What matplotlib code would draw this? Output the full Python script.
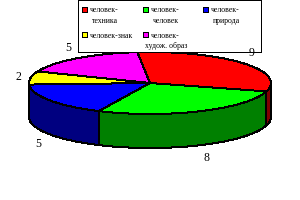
import numpy as np
import matplotlib
matplotlib.use("Agg")
import matplotlib.pyplot as plt
from matplotlib.patches import Polygon, Rectangle

categories = ["человек-\nтехника", "человек-\nчеловек", "человек-\nприрода", "человек-знак", "человек-\nхудож. образ"]
values = [9, 8, 5, 2, 5]
top_colors = ["#ff0000", "#00ff00", "#0000ff", "#ffff00", "#ff00ff"]
side_colors = ["#800000", "#008000", "#000080", "#808000", "#800080"]
label_pos = [(252, 52.5), (206, 158), (38, 144), (18, 77), (68, 48)]
legend_pos = [(82, 8), (143, 8), (203, 8), (82, 33), (143, 33)]

cx, cy, rx, ry, depth = 150, 84, 121, 31, 34
start = 96.0
LW = 0.72

plt.rcParams["font.family"] = ["Liberation Serif", "DejaVu Serif"]
fig = plt.figure(figsize=(3, 2.01), dpi=100)
ax = fig.add_axes([0, 0, 1, 1])
ax.set_xlim(0, 300)
ax.set_ylim(201, 0)
ax.axis("off")


def pt(t):
    t = np.radians(t)
    return cx + rx * np.cos(t), cy - ry * np.sin(t)


edges = start - np.concatenate([[0], np.cumsum(values)]) * 360 / sum(values)

# sides of the drum
for a, b, col in zip(edges[:-1], edges[1:], side_colors):
    lo, hi = max(b, -180), min(a, 0)
    if lo < hi:
        t = np.linspace(hi, lo, 80)
        x, y = pt(t)
        xy = np.r_[np.c_[x, y], np.c_[x, y + depth][::-1]]
        ax.add_patch(Polygon(xy, closed=True, fc=col, ec="k", lw=LW, antialiased=False, zorder=2))

# top slices
for a, b, col in zip(edges[:-1], edges[1:], top_colors):
    t = np.linspace(a, b, 120)
    x, y = pt(t)
    xy = np.r_[[[cx, cy]], np.c_[x, y]]
    ax.add_patch(Polygon(xy, closed=True, fc=col, ec="k", lw=LW, antialiased=False, zorder=3))

# value labels
for (x, y), v in zip(label_pos, values):
    ax.text(x, y, str(v), fontsize=8.5, ha="center", va="center", color="k", zorder=6)

# legend
ax.add_patch(Rectangle((77.5, 0.5), 183, 52, fc="w", ec="k", lw=LW, antialiased=False, zorder=4))
for (x, y), c, col in zip(legend_pos, categories, top_colors):
    ax.add_patch(Rectangle((x, y), 5, 4.5, fc=col, ec="k", lw=LW, antialiased=False, zorder=5))
    lines = c.split("\n")
    ax.text(x + 8, y + 2.5, lines[0], fontsize=5.6, ha="left", va="center", zorder=5)
    if len(lines) > 1:
        ax.text(x + 23, y + 13, lines[1], fontsize=5.6, ha="center", va="center", zorder=5)

fig.savefig("out.png", dpi=100)
